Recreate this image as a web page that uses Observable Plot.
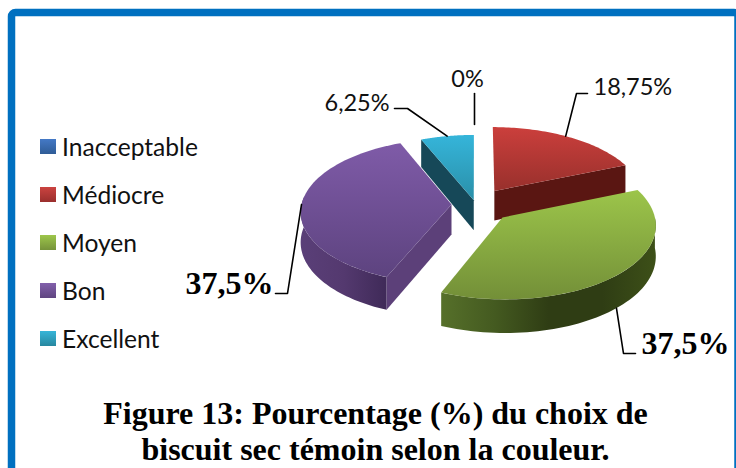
<!DOCTYPE html>
<html><head><meta charset="utf-8">
<script src="https://cdn.jsdelivr.net/npm/d3@7"></script>
<script src="https://cdn.jsdelivr.net/npm/@observablehq/plot@0.6"></script>
<style>html,body{margin:0;padding:0;background:#fff;overflow:hidden}</style>
</head><body><div id="chart"></div>
<script>
const categories = ["Inacceptable","Médiocre","Moyen","Bon","Excellent"];
const values = [0,18.75,37.5,37.5,6.25];
const valueLabels = ["0%","18,75%","37,5%","37,5%","6,25%"];
const titleLines = ["Figure 13: Pourcentage (%) du choix de","biscuit sec témoin selon la couleur."];
const swatchStops = [["#4479c6","#2f5c96"],["#cb4340","#9a2f2d"],["#9dc64b","#76933a"],["#8260ab","#5f4580"],["#36b5d8","#27879f"]];
const topStops = [["#4479c6","#2f5c96"],["#cb3f3c","#98302c"],["#9cc54a","#738f38"],["#7f5ba8","#5d437f"],["#35b5da","#2a8fa8"]];
const rimStops = [["#2a4a7a","#1a3050"],["#5a1612","#5a1612"],["#56702a","#445a20","#2f3d14","#2f3d14","#3d5018"],["#5a3f78","#54396f","#3f2a58"],["#174a5a","#174a5a"]];
const cutColors = ["#1a3050","#5a1612","#3a4a1a","#5c4079","#164858"];
const explode = [0,0.23,0.25,0.16,0.06];
const G = {cx:475,cy:204,R:150,tilt:0.48,cam:11,depth:30};

const total = d3.sum(values);
let acc = 0;
const slices = values.map((v,i)=>{const a0=acc/total*2*Math.PI;acc+=v;const a1=acc/total*2*Math.PI;return {i,a0,a1,mid:(a0+a1)/2,ex:explode[i]};});
function pt(s,th,r,z){
  const X=r*Math.sin(th)+s.ex*Math.sin(s.mid), Y=r*Math.cos(th)+s.ex*Math.cos(s.mid);
  const f=G.cam/(G.cam+Y);
  return {x:G.cx+G.R*X*f,y:G.cy-G.R*G.tilt*Y*f+G.depth*f*z};
}
function arc(s,a0,a1,z){const n=60;return d3.range(n+1).map(k=>pt(s,a0+(a1-a0)*k/n,1,z));}
const topFace = s=>[pt(s,0,0,0),...arc(s,s.a0,s.a1,0),pt(s,0,0,0)];
const rimFace = (s,a0,a1)=>[...arc(s,a0,a1,0),...arc(s,a1,a0,1)];
const cutFace = (s,a)=>[pt(s,0,0,0),pt(s,a,1,0),pt(s,a,1,1),pt(s,0,0,1)];
const poly=(d,fill)=>Plot.line(d,{x:"x",y:"y",fill,stroke:"none",curve:"linear"});
const lab=(t,x,y,o={})=>Plot.text([t],{x:()=>x,y:()=>y,text:d=>d,...o});

const defs=()=>{const e=document.createElementNS("http://www.w3.org/2000/svg","defs");
  const g=(id,c,h)=>`<linearGradient id="${id}" x1="0" y1="0" x2="${h?1:0}" y2="${h?0:1}">${c.map((k,j)=>`<stop offset="${j/(c.length-1)}" stop-color="${k}"/>`).join("")}</linearGradient>`;
  e.innerHTML=categories.map((_,i)=>g("sw"+i,swatchStops[i])+g("top"+i,topStops[i])+g("rim"+i,rimStops[i],true)).join("");return e;};

const [sI,sM,sG,sP,sC]=slices;
const leaders=[
  [{x:474,y:124},{x:474,y:93}],
  [pt(sM,sM.mid-0.03,1,0),{x:576,y:93},{x:587,y:93}],
  [pt(sG,sG.mid+0.03,1,1),{x:623,y:353},{x:635,y:353}],
  [pt(sP,sP.mid,1,0),{x:287,y:293},{x:275,y:293}],
  [pt(sC,sC.mid,1,0),{x:407,y:108},{x:394,y:108}]
];
const legendFont={fontFamily:"Lato",fontSize:24.6,fill:"#111"};
const sans={fontFamily:"Lato",fontSize:23.5,fill:"#111"};
const bold={fontFamily:"Liberation Serif",fontWeight:"bold",fontSize:32,fill:"#000"};
const titleFont={fontFamily:"Liberation Serif",fontWeight:"bold",fontSize:32,fill:"#000"};
const legendY=i=>146.5+48*i;

const plot=Plot.plot({
  width:736,height:468,margin:0,
  x:{domain:[0,736],range:[0,736],axis:null},
  y:{domain:[0,468],range:[0,468],axis:null},
  style:{background:"#fff"},
  marks:[
    defs,
    Plot.rect([0],{x1:()=>11.5,x2:()=>738,y1:()=>12.5,y2:()=>490,fill:"none",stroke:"#0070c0",strokeWidth:7.5,rx:4}),
    poly(cutFace(sM,sM.a1),cutColors[1]),
    poly(topFace(sM),"url(#top1)"),
    poly(cutFace(sC,sC.a0),cutColors[4]),
    poly(topFace(sC),"url(#top4)"),
    poly(rimFace(sP,sP.a0,sP.mid+0.12),"url(#rim3)"),
    poly(cutFace(sP,sP.a0),cutColors[3]),
    poly(topFace(sP),"url(#top3)"),
    poly(rimFace(sG,Math.PI/2,sG.a1),"url(#rim2)"),
    poly(topFace(sG),"url(#top2)"),
    ...leaders.map(l=>Plot.line(l,{x:"x",y:"y",stroke:"#000",strokeWidth:1.6,curve:"linear"})),
    ...categories.map((c,i)=>Plot.rect([c],{x1:()=>40,x2:()=>56,y1:()=>legendY(i)-7.5,y2:()=>legendY(i)+7.5,fill:`url(#sw${i})`})),
    Plot.text(categories,{x:()=>61.5,y:(d,i)=>legendY(i)+1.2,text:d=>d,textAnchor:"start",lineAnchor:"middle",...legendFont}),
    lab(valueLabels[0],467,79,{...sans}),
    lab(valueLabels[1],593,86.5,{...sans,textAnchor:"start"}),
    lab(valueLabels[4],324,102.5,{...sans,textAnchor:"start"}),
    lab(valueLabels[3],185,283,{...bold,textAnchor:"start"}),
    lab(valueLabels[2],641,343,{...bold,textAnchor:"start"}),
    lab(titleLines[0],375,413,titleFont),
    lab(titleLines[1],375,449,titleFont)
  ]
});
document.getElementById("chart").append(plot);
</script></body></html>
